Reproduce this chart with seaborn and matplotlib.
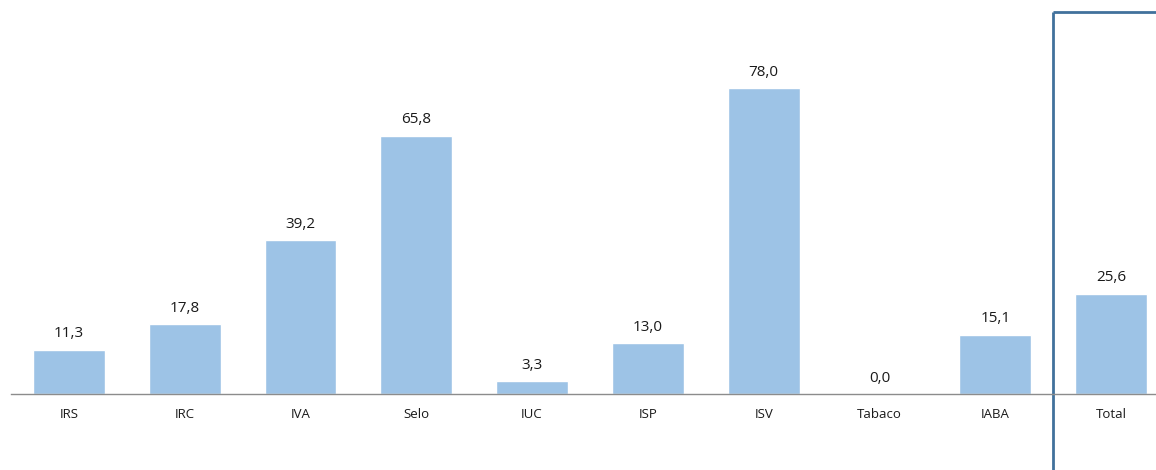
import matplotlib
matplotlib.use("Agg")
import matplotlib.pyplot as plt
import seaborn as sns
import pandas as pd
import numpy as np

categories = ["IRS", "IRC", "IVA", "Selo", "IUC", "ISP", "ISV", "Tabaco", "IABA", "Total"]
values = [11.3, 17.8, 39.2, 65.8, 3.3, 13.0, 78.0, 0.0, 15.1, 25.6]

df = pd.DataFrame({"imposto": categories, "valor": values})

sns.set_theme(style="white")
plt.rcParams["font.family"] = ["Open Sans", "DejaVu Sans"]

W, H = 1156, 470
fig = plt.figure(figsize=(W / 100, H / 100), dpi=100)
left_px, base_px = 11, 394
ax = fig.add_axes([left_px / W, (H - base_px) / H, (W - left_px) / W, base_px / H])

sns.barplot(data=df, x="imposto", y="valor", color="#9DC3E6", saturation=1,
            width=0.62, ax=ax)

for i, v in enumerate(values):
    ax.annotate(f"{v:.1f}".replace(".", ","), (i, v), xytext=(0, 6),
                textcoords="offset points", ha="center", va="bottom",
                fontsize=11, color="#1a1a1a")

for side in ["top", "right", "left"]:
    ax.spines[side].set_visible(False)
ax.spines["bottom"].set_color("#8c8c8c")
ax.spines["bottom"].set_linewidth(1)
ax.set_yticks([])
ax.set_xlabel("")
ax.set_ylabel("")
ax.set_xticks(range(len(categories)))
ax.set_xticklabels(categories, fontsize=9.5, color="#1a1a1a")
ax.tick_params(axis="x", which="major", length=0, pad=10)
ax.set_xticks(np.arange(len(categories) + 1) - 0.5, minor=True)
ax.tick_params(axis="x", which="minor", length=4, color="#8c8c8c", width=1)

# Category spacing of ~115.8 px; the last slot runs past the right edge
ax.set_xlim(-0.5, -0.5 + (W - left_px) / 115.8)
ax.set_ylim(0, 100.4)

# Frame highlighting the total column
frame_col = "#41719C"
ax.plot([8.5, 8.5], [-25, 97.4], color=frame_col, lw=2, clip_on=False,
        solid_capstyle="butt")
ax.plot([8.5, 10.5], [97.4, 97.4], color=frame_col, lw=2, clip_on=False,
        solid_capstyle="butt")

fig.savefig("out.png", dpi=100)
